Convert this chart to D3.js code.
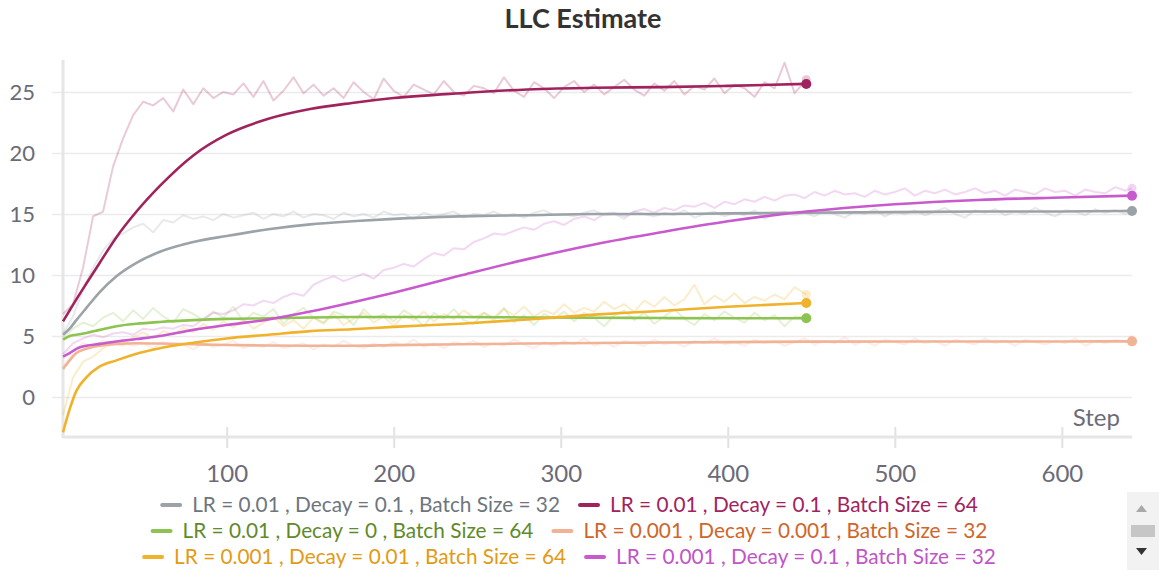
<!DOCTYPE html>
<html>
<head>
<meta charset="utf-8">
<script src="https://cdn.jsdelivr.net/npm/d3@7"></script>
<style>
  html, body { margin: 0; padding: 0; background: #fff; }
  svg { display: block; font-family: Lato, "Noto Sans", sans-serif; }
</style>
</head>
<body>
<svg id="chart" width="1159" height="574"></svg>
<script>
// ---- Run names and colours ----
const runNames = [
  "LR = 0.01 , Decay = 0.1 , Batch Size = 32",
  "LR = 0.01 , Decay = 0.1 , Batch Size = 64",
  "LR = 0.01 , Decay = 0 , Batch Size = 64",
  "LR = 0.001 , Decay = 0.001 , Batch Size = 32",
  "LR = 0.001 , Decay = 0.01 , Batch Size = 64",
  "LR = 0.001 , Decay = 0.1 , Batch Size = 32"
];
const lineColors = ["#9ca3a8", "#a1235e", "#8dc350", "#f2b296", "#f0b22b", "#c85acd"];
const textColors = ["#6e767d", "#a1235e", "#5f8a2b", "#d0652a", "#e39a14", "#c055c8"];
const lastStep   = [642, 447, 447, 642, 447, 642];

// ---- Axis ticks ----
const xTicks = [100, 200, 300, 400, 500, 600];
const yTicks = [0, 5, 10, 15, 20, 25];

// ---- Smoothed curves (sampled on a shared step grid) ----
const smoothSteps = [2, 6, 10, 16, 24, 34, 46, 60, 80, 100, 125, 150, 175, 200, 240, 280, 320, 360, 400, 447, 500, 550, 600, 642];
const smoothGrey    = [5.1, 5.6, 6.3, 7.3, 8.6, 9.9, 11.0, 11.9, 12.7, 13.2, 13.75, 14.15, 14.4, 14.6, 14.8, 14.9, 15.0, 15.0, 15.05, 15.1, 15.15, 15.2, 15.2, 15.25];
const smoothMagenta = [6.2, 7.1, 8.0, 9.3, 11.0, 13.1, 15.2, 17.3, 19.8, 21.5, 22.8, 23.6, 24.1, 24.5, 24.9, 25.2, 25.35, 25.4, 25.5, 25.66];
const smoothGreen   = [4.7, 5.0, 5.1, 5.25, 5.5, 5.8, 6.0, 6.15, 6.3, 6.4, 6.45, 6.52, 6.55, 6.55, 6.55, 6.52, 6.5, 6.47, 6.45, 6.45];
const smoothPeach   = [2.3, 3.0, 3.6, 3.95, 4.2, 4.35, 4.4, 4.38, 4.32, 4.26, 4.22, 4.2, 4.2, 4.25, 4.32, 4.38, 4.42, 4.46, 4.5, 4.54, 4.55, 4.55, 4.55, 4.56];
const smoothOrange  = [-2.9, -1.0, 0.5, 1.6, 2.5, 3.0, 3.55, 4.0, 4.45, 4.8, 5.1, 5.4, 5.55, 5.75, 6.0, 6.35, 6.75, 7.05, 7.4, 7.7];
const smoothPurple  = [3.3, 3.6, 3.95, 4.2, 4.35, 4.55, 4.75, 5.0, 5.5, 5.9, 6.35, 7.0, 7.75, 8.55, 9.95, 11.3, 12.5, 13.5, 14.4, 15.2, 15.8, 16.15, 16.35, 16.5];

// ---- Raw logged values: one every 6 steps from step 2, last one at the final step ----
const rawStart = 2, rawEvery = 6;
const rawGrey = [
  5.2, 6.6, 8.8, 10.6, 12.0, 13.0, 13.4, 13.9, 14.2, 13.5,
  14.5, 14.3, 14.9, 14.6, 14.8, 14.5, 15.0, 14.7, 14.9, 15.1,
  14.6, 15.0, 14.8, 15.2, 14.7, 15.0, 14.9, 14.6, 15.1, 14.8,
  15.0, 14.7, 15.2, 14.9, 15.0, 14.6, 15.1, 14.8, 15.0, 15.2,
  14.7, 15.0, 14.9, 15.2, 14.8, 15.0, 14.7, 15.1, 15.3, 14.9,
  15.0, 14.8, 15.1, 15.3, 14.9, 15.0, 14.6, 15.2, 15.0, 14.8,
  15.1, 14.9, 15.3, 14.7, 15.0, 15.2, 14.8, 15.1, 14.9, 15.3,
  14.6, 15.0, 15.2, 14.9, 15.1, 14.8, 15.3, 15.0, 14.7, 15.2,
  15.0, 15.4, 14.8, 15.2, 15.0, 15.3, 14.9, 15.2, 15.5, 15.0,
  14.7, 15.3, 15.1, 15.4, 14.9, 15.2, 15.0, 15.5, 15.1, 14.8,
  15.3, 15.2, 14.9, 15.4, 15.1, 15.3, 15.0, 15.3
];
const rawMagenta = [
  6.8, 7.6, 10.6, 14.8, 15.2, 18.9, 21.2, 23.1, 24.2, 23.9,
  24.5, 23.4, 25.2, 24.0, 25.3, 24.5, 25.0, 24.8, 25.7, 24.6,
  25.9, 24.3, 25.1, 26.2, 24.9, 25.6, 24.7, 25.3, 24.5, 25.8,
  25.0, 24.4, 26.1, 25.1, 24.6, 25.6, 25.2, 24.8, 25.9, 25.0,
  24.7, 25.5, 25.3, 24.9, 26.2, 25.1, 24.6, 25.8, 25.3, 24.5,
  25.4, 25.9, 25.0, 25.6, 24.8, 25.4, 26.0, 25.2, 24.7, 25.7,
  25.1, 25.9, 24.8, 25.5, 25.2, 26.1, 24.9, 25.6, 25.3, 24.6,
  25.8, 25.3, 27.4, 24.9, 26.0
];
const rawGreen = [
  4.9, 5.6, 6.1, 5.8, 6.5, 6.9, 6.2, 7.1, 6.4, 7.3,
  6.6, 6.1, 7.2, 6.8, 6.3, 7.0, 6.5, 7.4, 6.2, 6.9,
  6.6, 7.2, 6.0, 6.8, 7.3, 6.5, 6.1, 7.0, 6.7, 5.9,
  7.2, 6.4, 6.8, 6.2, 7.1, 6.6, 5.8, 6.9, 6.4, 7.2,
  6.3, 6.0, 6.9, 6.5, 7.3, 6.1, 6.7, 5.9, 6.8, 6.4,
  7.0, 6.2, 6.9, 6.5, 5.8, 6.7, 7.1, 6.3, 6.9, 6.0,
  6.6, 7.2, 6.4, 5.9, 6.8, 6.3, 7.0, 6.5, 6.1, 6.9,
  6.3, 6.7, 5.8, 6.6, 6.5
];
const rawPeach = [
  2.4, 3.7, 4.4, 4.1, 4.6, 4.3, 4.5, 4.2, 4.4, 4.0,
  4.5, 4.2, 4.3, 3.9, 4.4, 4.1, 4.3, 4.6, 4.0, 4.3,
  4.1, 4.5, 4.0, 4.2, 4.4, 3.9, 4.3, 4.1, 4.6, 4.2,
  4.0, 4.4, 4.1, 4.5, 4.2, 4.7, 4.1, 4.4, 4.0, 4.5,
  4.3, 4.6, 4.1, 4.4, 4.2, 4.7, 4.3, 4.0, 4.5, 4.2,
  4.6, 4.3, 4.8, 4.2, 4.5, 4.1, 4.6, 4.4, 4.2, 4.7,
  4.3, 4.5, 4.1, 4.6, 4.4, 4.8, 4.3, 4.5, 4.2, 4.7,
  4.4, 4.6, 4.2, 4.5, 4.8, 4.3, 4.6, 4.4, 4.9, 4.3,
  4.6, 4.2, 4.7, 4.5, 4.3, 4.8, 4.4, 4.6, 4.2, 4.7,
  4.5, 4.3, 4.8, 4.4, 4.6, 4.2, 4.7, 4.5, 4.3, 4.6,
  4.4, 4.8, 4.2, 4.6, 4.4, 4.7, 4.5, 4.7
];
const rawOrange = [
  -1.5, 1.6, 2.9, 3.3, 4.0, 4.4, 4.2, 4.9, 5.3, 4.8,
  5.4, 5.1, 5.7, 5.3, 6.0, 5.5, 6.2, 5.7, 6.4, 5.6,
  6.1, 6.6, 5.8, 6.3, 5.6, 6.5, 6.0, 6.8, 5.9, 6.4,
  6.9, 6.1, 6.6, 5.8, 6.7, 6.3, 7.0, 6.2, 6.8, 6.4,
  7.1, 6.5, 6.9, 6.3, 7.2, 6.7, 7.4, 6.6, 7.1, 6.8,
  7.6, 6.9, 7.3, 7.0, 7.8, 7.2, 7.6, 7.0, 7.9, 7.4,
  8.2, 7.5, 8.0, 9.2, 7.6, 8.3, 7.8, 8.5, 7.7, 8.2,
  7.9, 8.4, 8.0, 9.0, 8.4
];
const rawPurple = [
  3.5, 4.4, 4.8, 5.1, 4.9, 5.2, 5.3, 5.1, 5.6, 5.5,
  5.7, 5.6, 5.9, 5.8, 6.4, 6.9, 6.8, 7.1, 7.6, 7.5,
  7.9, 7.7, 8.2, 8.5, 8.3, 9.2, 9.6, 9.9, 9.5, 9.8,
  10.1, 9.7, 10.4, 10.6, 10.9, 10.7, 11.3, 11.8, 11.6, 12.2,
  12.1, 12.7, 13.0, 13.4, 13.3, 13.6, 13.9, 13.7, 14.2, 14.4,
  14.1, 14.6, 14.8, 14.5, 15.0, 15.1, 14.8, 15.2, 15.4, 15.1,
  15.5, 15.3, 15.7, 15.6, 15.9, 15.5, 16.0, 15.8, 16.2, 16.0,
  16.4, 16.1, 16.5, 16.6, 16.3, 16.8, 16.5, 16.9, 16.6, 16.7,
  16.4, 16.9, 16.6, 16.8, 17.1, 16.5, 16.9, 16.7, 17.0, 16.6,
  16.8, 17.1, 16.7, 16.9, 16.5, 17.0, 16.8, 16.6, 17.1, 16.8,
  16.9, 16.5, 17.0, 16.8, 16.7, 17.2, 16.9, 17.1
];

const smoothValues = [smoothGrey, smoothMagenta, smoothGreen, smoothPeach, smoothOrange, smoothPurple];
const rawValues    = [rawGrey, rawMagenta, rawGreen, rawPeach, rawOrange, rawPurple];

// ---- Layout ----
const plot = { left: 63, right: 1132, top: 60, bottom: 437 };
const labelColor = "#6b6b78";

const svg = d3.select("#chart");

const x = d3.scaleLinear().domain([2, 642]).range([plot.left, plot.right]);
const y = d3.scaleLinear().domain([-3.28, 27.62]).range([plot.bottom, plot.top]);

// Title
svg.append("text")
  .attr("x", 583).attr("y", 28)
  .attr("text-anchor", "middle")
  .attr("font-size", 27).attr("font-weight", 700)
  .attr("fill", "#333")
  .text("LLC Estimate");

// Horizontal gridlines (left stub + full width)
svg.append("g")
  .attr("transform", `translate(52,0)`)
  .call(d3.axisLeft(y).tickValues(yTicks).tickSize(-(plot.right - 52)).tickFormat(""))
  .call(g => g.select(".domain").remove())
  .call(g => g.selectAll(".tick line").attr("stroke", "#ebebeb").attr("stroke-width", 1.5));

// Y tick labels
svg.append("g")
  .attr("transform", `translate(52,0)`)
  .call(d3.axisLeft(y).tickValues(yTicks).tickSize(0).tickPadding(17))
  .call(g => g.select(".domain").remove())
  .call(g => g.selectAll(".tick text")
    .attr("font-family", "Lato, sans-serif").attr("font-size", 22).attr("fill", labelColor));

// Vertical axis line
svg.append("line")
  .attr("x1", plot.left).attr("x2", plot.left)
  .attr("y1", plot.top).attr("y2", plot.bottom + 1)
  .attr("stroke", "#e6e6e6").attr("stroke-width", 3);

// X axis with tick marks crossing the baseline
svg.append("g")
  .attr("transform", `translate(0,427)`)
  .call(d3.axisBottom(x).tickValues(xTicks).tickSize(21).tickPadding(17))
  .call(g => g.select(".domain").remove())
  .call(g => g.selectAll(".tick line").attr("stroke", "#e2e2e2").attr("stroke-width", 2))
  .call(g => g.selectAll(".tick text")
    .attr("font-family", "Lato, sans-serif").attr("font-size", 24).attr("fill", labelColor));

svg.append("line")
  .attr("x1", plot.left).attr("x2", plot.right)
  .attr("y1", plot.bottom).attr("y2", plot.bottom)
  .attr("stroke", "#e6e6e6").attr("stroke-width", 3);

// "Step" axis title
svg.append("text")
  .attr("x", 1120).attr("y", 426)
  .attr("text-anchor", "end")
  .attr("font-size", 24).attr("fill", labelColor)
  .text("Step");

// ---- Series ----
const rawPoints = (vals, i) => vals.map((v, k) => ({
  s: k === vals.length - 1 ? lastStep[i] : rawStart + rawEvery * k, v
}));
const smoothPoints = (vals) => vals.map((v, k) => ({ s: smoothSteps[k], v }));

const rawLine = d3.line().x(d => x(d.s)).y(d => y(d.v));
const smoothLine = d3.line().x(d => x(d.s)).y(d => y(d.v)).curve(d3.curveMonotoneX);

const series = runNames.map((name, i) => ({
  name, i,
  raw: rawPoints(rawValues[i], i),
  smooth: smoothPoints(smoothValues[i])
}));

const rawLayer = svg.append("g");
const smoothLayer = svg.append("g");

series.forEach(sr => {
  rawLayer.append("path")
    .datum(sr.raw)
    .attr("d", rawLine)
    .attr("fill", "none")
    .attr("stroke", lineColors[sr.i])
    .attr("stroke-opacity", 0.24)
    .attr("stroke-width", 2)
    .attr("stroke-linejoin", "round");
  const lastRaw = sr.raw[sr.raw.length - 1];
  rawLayer.append("circle")
    .attr("cx", x(lastRaw.s)).attr("cy", y(lastRaw.v)).attr("r", 4.5)
    .attr("fill", lineColors[sr.i]).attr("fill-opacity", 0.25);
});

series.forEach(sr => {
  smoothLayer.append("path")
    .datum(sr.smooth)
    .attr("d", smoothLine)
    .attr("fill", "none")
    .attr("stroke", lineColors[sr.i])
    .attr("stroke-width", 2.6)
    .attr("stroke-linejoin", "round");
  const last = sr.smooth[sr.smooth.length - 1];
  smoothLayer.append("circle")
    .attr("cx", x(last.s)).attr("cy", y(last.v)).attr("r", 5)
    .attr("fill", lineColors[sr.i]);
});

// ---- Legend: three centred rows of two entries ----
const legendRows = [[0, 1], [2, 3], [4, 5]];
const rowY = [505, 531, 557];
const legendCenter = 570;
const swatchLen = 18, swatchGap = 12, itemGap = 20;

const legend = svg.append("g").attr("font-size", 20.8);
legendRows.forEach((row, r) => {
  const rowG = legend.append("g");
  let cursor = 0;
  row.forEach(i => {
    const item = rowG.append("g").attr("transform", `translate(${cursor},0)`);
    item.append("line")
      .attr("x1", 0).attr("x2", swatchLen)
      .attr("y1", rowY[r]).attr("y2", rowY[r])
      .attr("stroke", lineColors[i]).attr("stroke-width", 4)
      .attr("stroke-linecap", "round");
    const t = item.append("text")
      .attr("x", swatchLen + swatchGap).attr("y", rowY[r])
      .attr("dy", "0.36em")
      .attr("fill", textColors[i])
      .text(runNames[i]);
    cursor += swatchLen + swatchGap + t.node().getComputedTextLength() + itemGap;
  });
  const rowWidth = cursor - itemGap;
  rowG.attr("transform", `translate(${legendCenter - rowWidth / 2},0)`);
});

// Legend pager
const pager = svg.append("g");
pager.append("rect")
  .attr("x", 1127).attr("y", 492).attr("width", 32).attr("height", 78)
  .attr("fill", "#f2f2f2");
pager.append("path")
  .attr("d", "M1136,512 L1147,512 L1141.5,505 Z").attr("fill", "#a9a9a9");
pager.append("rect")
  .attr("x", 1131).attr("y", 525).attr("width", 24).attr("height", 12)
  .attr("fill", "#c6c6c6");
pager.append("path")
  .attr("d", "M1136,548 L1147,548 L1141.5,555 Z").attr("fill", "#333");
</script>
</body>
</html>
